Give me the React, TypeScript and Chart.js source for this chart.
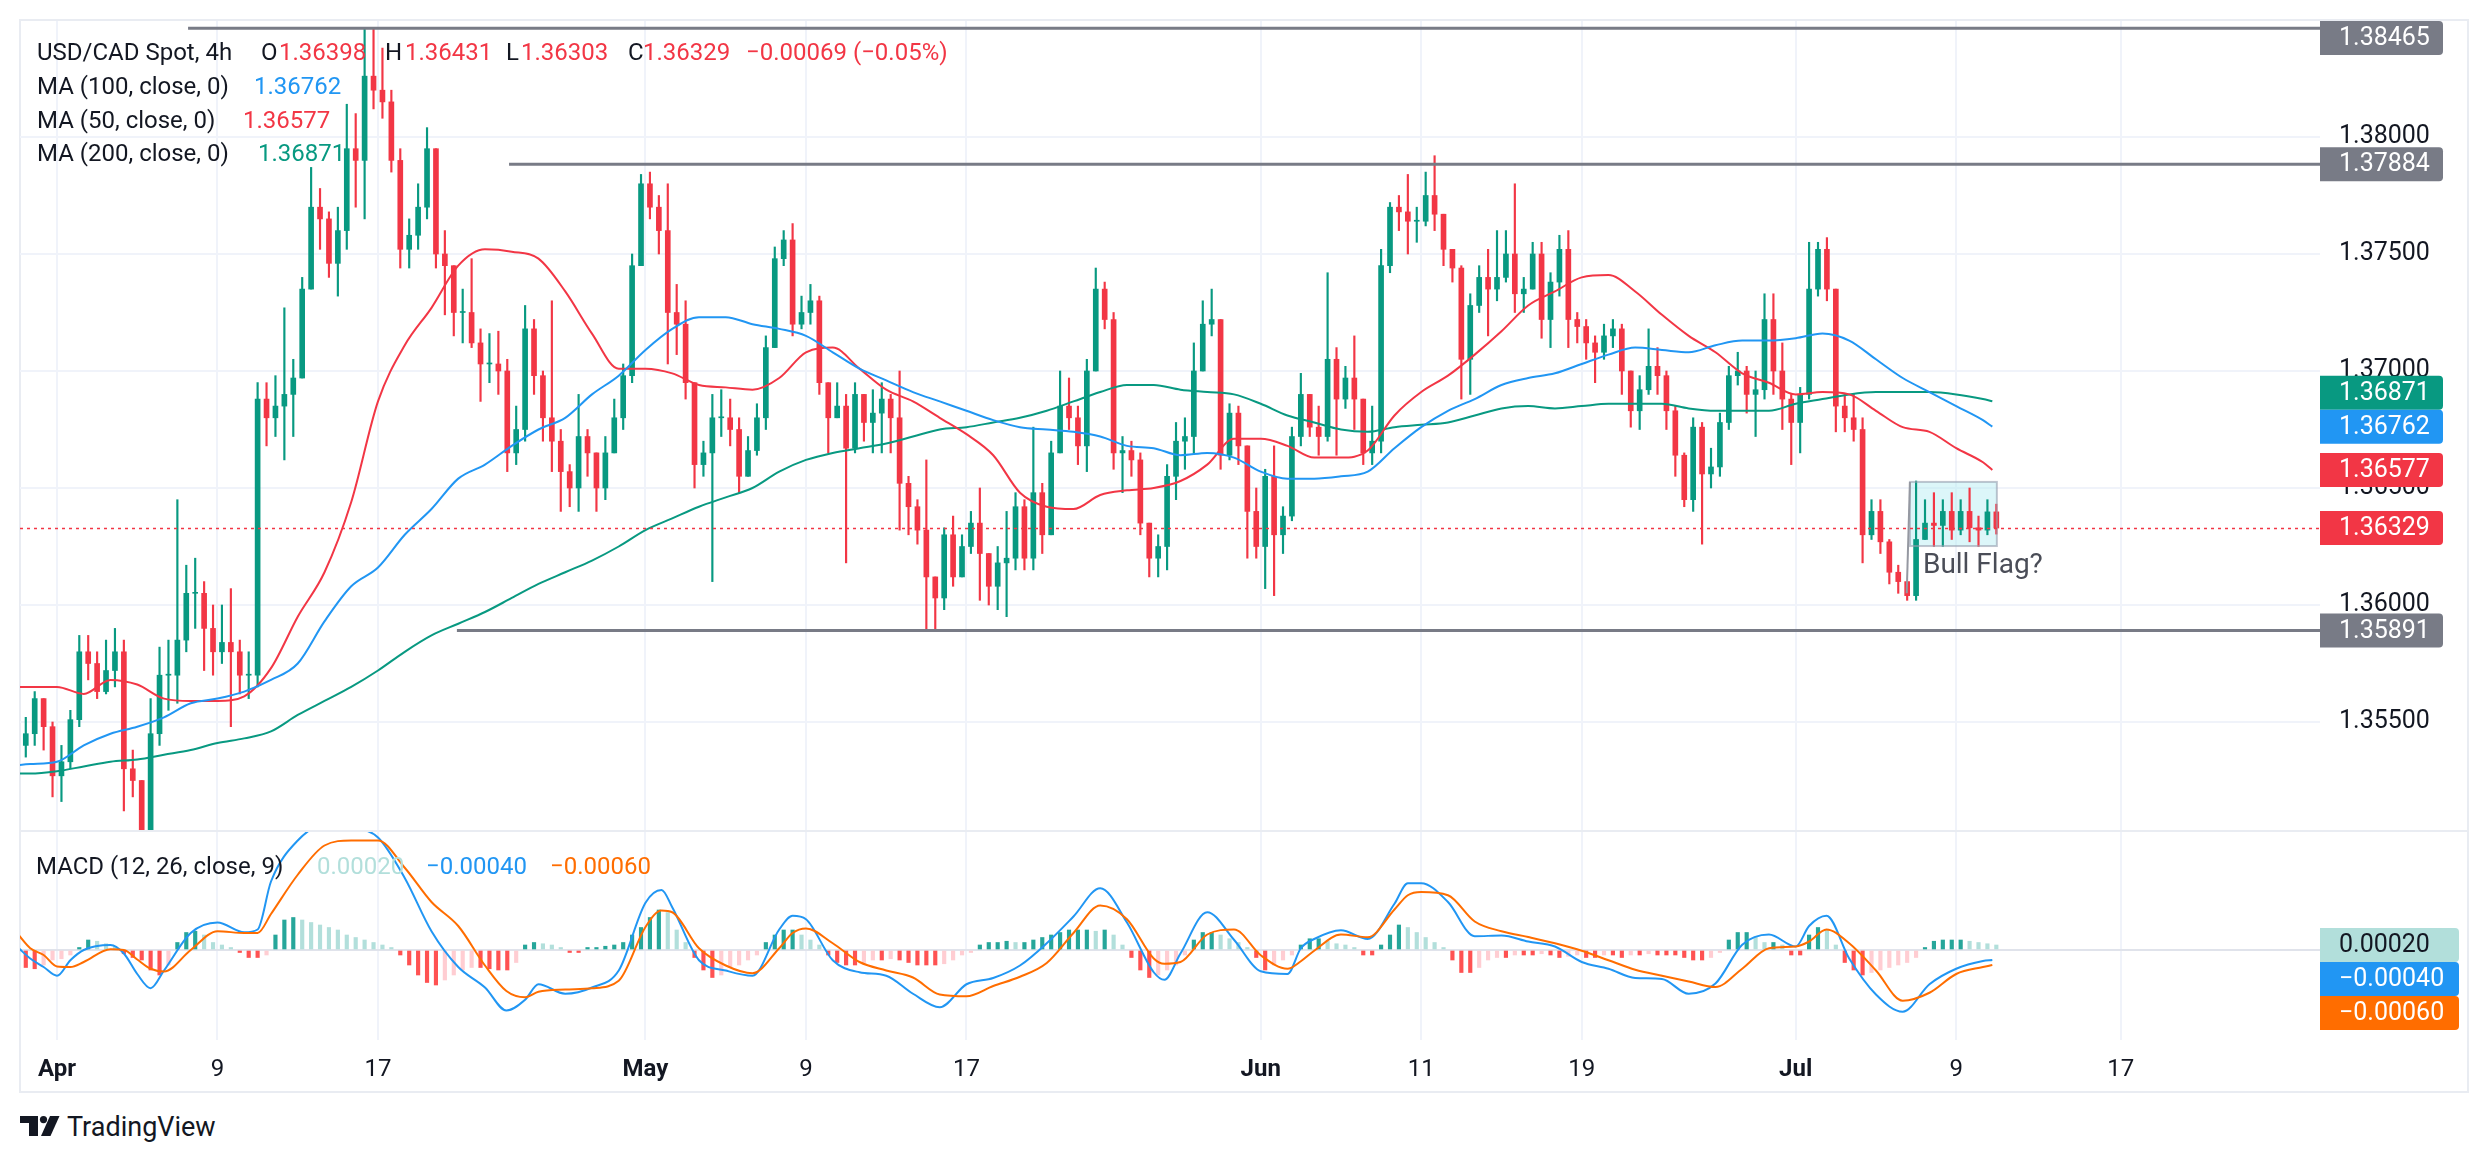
import React, { useEffect, useRef } from 'react';
import { Chart, registerables } from 'chart.js';

Chart.register(...registerables);

const FONT = 'Roboto, "Noto Sans", Arial, sans-serif';
const UP = '#089981';
const DOWN = '#F23645';
const GRID = '#F0F3FA';
const TEXT = '#131722';

// ---------- candles: 8h bars, first bar = last session of Mar 28; then 3 bars per trading day (day 0 = Apr 1)
const firstBarDay = -2 + 2.5 / 3;
const barStep = 1 / 3;
const firstOpen = 1.354;
const closes = [
  1.3545,
  1.3560, 1.3548, 1.3527,
  1.3533, 1.3551, 1.3580,
  1.3575, 1.3563, 1.3572,
  1.3580, 1.3530, 1.3525,
  1.3500, 1.3545, 1.3570,
  1.3570, 1.3585, 1.3605,
  1.3605, 1.3590, 1.3580,
  1.3584, 1.3580, 1.3570,
  1.3570, 1.3688, 1.3680,
  1.3685, 1.3690, 1.3697,
  1.3735, 1.3770, 1.3765,
  1.3746, 1.3760, 1.3795,
  1.3790, 1.3826, 1.3820,
  1.3815, 1.3790, 1.3752,
  1.3758, 1.3770, 1.3795,
  1.3750, 1.3745, 1.3725,
  1.3725, 1.3712, 1.3703,
  1.3703, 1.3700, 1.3665,
  1.3675, 1.3718, 1.3698,
  1.3680, 1.3670, 1.3657,
  1.3650, 1.3672, 1.3665,
  1.3650, 1.3665, 1.3680,
  1.3698, 1.3745, 1.3780,
  1.3770, 1.3760, 1.3725,
  1.3720, 1.3695, 1.3660,
  1.3665, 1.3680, 1.3680,
  1.3675, 1.3655, 1.3666,
  1.3680, 1.3710, 1.3748,
  1.3756, 1.3720, 1.3725,
  1.3730, 1.3695, 1.3680,
  1.3685, 1.3667, 1.3690,
  1.3678, 1.3682, 1.3688,
  1.3680, 1.3652, 1.3642,
  1.3632, 1.3612, 1.3603,
  1.3630, 1.3612, 1.3625,
  1.3635, 1.3622, 1.3608,
  1.3618, 1.3620, 1.3642,
  1.3620, 1.3648, 1.3630,
  1.3665, 1.3685, 1.3680,
  1.3668, 1.3700, 1.3735,
  1.3722, 1.3665, 1.3666,
  1.3662, 1.3635, 1.3620,
  1.3625, 1.3655, 1.3670,
  1.3672, 1.3700, 1.3720,
  1.3722, 1.3664, 1.3682,
  1.3668, 1.3640, 1.3625,
  1.3655, 1.3630, 1.3638,
  1.3672, 1.3690, 1.3676,
  1.3672, 1.3705, 1.3688,
  1.3697, 1.3688, 1.3665,
  1.3670, 1.3745, 1.3770,
  1.3768, 1.3764, 1.3764,
  1.3775, 1.3767, 1.3752,
  1.3744, 1.3705, 1.3728,
  1.3740, 1.3735, 1.3740,
  1.3750, 1.3733, 1.3735,
  1.3750, 1.3722, 1.3738,
  1.3752, 1.3722, 1.3719,
  1.3712, 1.3708, 1.3715,
  1.3718, 1.3700, 1.3683,
  1.3692, 1.3702, 1.3698,
  1.3683, 1.3664, 1.3645,
  1.3676, 1.3656, 1.3659,
  1.3678, 1.3698, 1.3700,
  1.3690, 1.3692, 1.3722,
  1.3700, 1.3688, 1.3678,
  1.3690, 1.3735, 1.3752,
  1.3735, 1.3685, 1.3680,
  1.3675, 1.3630, 1.3640,
  1.3627, 1.3614, 1.3610,
  1.3604, 1.3628, 1.3635,
  1.3634, 1.3640, 1.3632,
  1.3640, 1.3633, 1.3632,
  1.36398, 1.36329,
];
const highs = [
  1.3552,
  1.3563, 1.3560, 1.3550,
  1.3540, 1.3555, 1.3587,
  1.3587, 1.3580, 1.3585,
  1.3590, 1.3585, 1.3538,
  1.3520, 1.3560, 1.3582,
  1.3585, 1.3645, 1.3617,
  1.3620, 1.3610, 1.3600,
  1.3600, 1.3607, 1.3585,
  1.3580, 1.3695, 1.3695,
  1.3698, 1.3727, 1.3705,
  1.3740, 1.3787, 1.3778,
  1.3768, 1.3770, 1.3814,
  1.3810, 1.3846, 1.3846,
  1.3838, 1.3820, 1.3795,
  1.3765, 1.3780, 1.3804,
  1.3790, 1.3760, 1.3742,
  1.3735, 1.3748, 1.3718,
  1.3716, 1.3717, 1.3705,
  1.3685, 1.3728, 1.3722,
  1.3700, 1.3730, 1.3675,
  1.3660, 1.3690, 1.3675,
  1.3665, 1.3672, 1.3688,
  1.3703, 1.3750, 1.3784,
  1.3785, 1.3775, 1.3780,
  1.3737, 1.3730, 1.3690,
  1.3670, 1.3690, 1.3692,
  1.3688, 1.3680, 1.3672,
  1.3686, 1.3715, 1.3753,
  1.3760, 1.3763, 1.3732,
  1.3737, 1.3732, 1.3695,
  1.3695, 1.3690, 1.3695,
  1.3690, 1.3692, 1.3695,
  1.3690, 1.3700, 1.3655,
  1.3645, 1.3662, 1.3612,
  1.3633, 1.3638, 1.3630,
  1.3640, 1.3650, 1.3620,
  1.3625, 1.3640, 1.3648,
  1.3645, 1.3676, 1.3652,
  1.3670, 1.3700, 1.3697,
  1.3685, 1.3705, 1.3744,
  1.3738, 1.3725, 1.3672,
  1.3670, 1.3665, 1.3635,
  1.3630, 1.3660, 1.3678,
  1.3680, 1.3712, 1.3730,
  1.3735, 1.3722, 1.3686,
  1.3685, 1.3668, 1.3650,
  1.3658, 1.3668, 1.3642,
  1.3676, 1.3699, 1.3690,
  1.3685, 1.3742, 1.3710,
  1.3702, 1.3715, 1.3680,
  1.3685, 1.3752, 1.3772,
  1.3775, 1.3784, 1.3770,
  1.3785, 1.3792, 1.3765,
  1.3752, 1.3745, 1.3733,
  1.3745, 1.3752, 1.3760,
  1.3760, 1.3780, 1.3740,
  1.3755, 1.3755, 1.3742,
  1.3758, 1.3760, 1.3725,
  1.3722, 1.3715, 1.3720,
  1.3722, 1.3720, 1.3690,
  1.3698, 1.3718, 1.3710,
  1.3700, 1.3685, 1.3665,
  1.3680, 1.3678, 1.3667,
  1.3682, 1.3702, 1.3708,
  1.3702, 1.3700, 1.3733,
  1.3733, 1.3712, 1.3690,
  1.3693, 1.3755, 1.3755,
  1.3757, 1.3733, 1.3690,
  1.3690, 1.3680, 1.3645,
  1.3645, 1.3628, 1.3617,
  1.3608, 1.3653, 1.3645,
  1.3648, 1.3645, 1.3648,
  1.3645, 1.3650, 1.3638,
  1.3645, 1.36431,
];
const lows = [
  1.3535,
  1.3540, 1.3538, 1.3518,
  1.3516, 1.3530, 1.3548,
  1.3568, 1.3560, 1.3562,
  1.3565, 1.3512, 1.3518,
  1.3490, 1.3495, 1.3540,
  1.3555, 1.3558, 1.3580,
  1.3590, 1.3572, 1.3570,
  1.3575, 1.3548, 1.3562,
  1.3560, 1.3565, 1.3668,
  1.3672, 1.3662, 1.3672,
  1.3700, 1.3735, 1.3752,
  1.3740, 1.3732, 1.3752,
  1.3770, 1.3765, 1.3812,
  1.3808, 1.3785, 1.3744,
  1.3744, 1.3752, 1.3765,
  1.3744, 1.3724, 1.3715,
  1.3712, 1.3710, 1.3687,
  1.3695, 1.3690, 1.3657,
  1.3660, 1.3670, 1.3690,
  1.3670, 1.3657, 1.3640,
  1.3642, 1.3640, 1.3655,
  1.3640, 1.3645, 1.3670,
  1.3675, 1.3695, 1.3745,
  1.3765, 1.3750, 1.3703,
  1.3707, 1.3688, 1.3650,
  1.3655, 1.3610, 1.3672,
  1.3668, 1.3648, 1.3655,
  1.3664, 1.3675, 1.3715,
  1.3745, 1.3715, 1.3718,
  1.3720, 1.3690, 1.3665,
  1.3680, 1.3618, 1.3665,
  1.3670, 1.3665, 1.3665,
  1.3665, 1.3632, 1.3630,
  1.3626, 1.3589, 1.3589,
  1.3598, 1.3608, 1.3612,
  1.3622, 1.3602, 1.3600,
  1.3598, 1.3595, 1.3615,
  1.3615, 1.3615, 1.3622,
  1.3630, 1.3668, 1.3675,
  1.3660, 1.3657, 1.3700,
  1.3718, 1.3658, 1.3648,
  1.3655, 1.3630, 1.3612,
  1.3612, 1.3615, 1.3645,
  1.3658, 1.3665, 1.3703,
  1.3715, 1.3658, 1.3662,
  1.3660, 1.3620, 1.3620,
  1.3607, 1.3604, 1.3622,
  1.3636, 1.3668, 1.3672,
  1.3664, 1.3670, 1.3664,
  1.3684, 1.3675, 1.3660,
  1.3660, 1.3665, 1.3742,
  1.3760, 1.3750, 1.3755,
  1.3762, 1.3760, 1.3745,
  1.3738, 1.3688, 1.3690,
  1.3725, 1.3715, 1.3730,
  1.3738, 1.3725, 1.3725,
  1.3735, 1.3714, 1.3710,
  1.3732, 1.3710, 1.3712,
  1.3705, 1.3695, 1.3705,
  1.3710, 1.3690, 1.3676,
  1.3675, 1.3690, 1.3690,
  1.3675, 1.3655, 1.3642,
  1.3640, 1.3626, 1.3650,
  1.3655, 1.3675, 1.3694,
  1.3682, 1.3672, 1.3688,
  1.3690, 1.3675, 1.3660,
  1.3665, 1.3688, 1.3732,
  1.3730, 1.3674, 1.3674,
  1.3670, 1.3618, 1.3628,
  1.3622, 1.3609, 1.3605,
  1.3602, 1.3602, 1.3628,
  1.3625, 1.3625, 1.3628,
  1.3630, 1.3627, 1.3625,
  1.3630, 1.36303,
];

// ---------- moving averages, one value per trading day from day -2 to day 72, then the last bar (day 72.35)
const maFirstDay = -2;
const maLastDay = 72.35;
const ma50 = [
  1.3565, 1.3565, 1.3565, 1.3562, 1.3568, 1.3566, 1.3560, 1.3559, 1.3559, 1.3561,
  1.3573, 1.3595, 1.3614, 1.3644, 1.3687, 1.3711, 1.3727, 1.3745, 1.3752, 1.3751,
  1.3748, 1.3734, 1.3716, 1.3701, 1.3701, 1.3699, 1.3694, 1.3693, 1.3692, 1.3697,
  1.3708, 1.3710, 1.3701, 1.3692, 1.3687, 1.3680, 1.3673, 1.3664, 1.3648, 1.3642,
  1.3641, 1.3647, 1.3649, 1.3650, 1.3653, 1.3660, 1.3671, 1.3671, 1.3668, 1.3663,
  1.3663, 1.3666, 1.3681, 1.3691, 1.3698, 1.3707, 1.3717, 1.3728, 1.3734, 1.3740,
  1.3741, 1.3734, 1.3724, 1.3715, 1.3708, 1.3699, 1.3695, 1.3690, 1.3691, 1.3690,
  1.3683, 1.3676, 1.3674, 1.3667, 1.3661, 1.36577,
];
const ma100 = [
  1.3531, 1.3532, 1.3533, 1.3540, 1.3545, 1.3548, 1.3552, 1.3558, 1.3560, 1.3563,
  1.3568, 1.3575, 1.3593, 1.3608, 1.3616, 1.3630, 1.3641, 1.3654, 1.3660, 1.3668,
  1.3675, 1.3680, 1.3690, 1.3698, 1.3709, 1.3718, 1.3723, 1.3723, 1.3720, 1.3718,
  1.3715, 1.3708, 1.3701, 1.3696, 1.3691, 1.3687, 1.3683, 1.3679, 1.3676, 1.3675,
  1.3674, 1.3672, 1.3668, 1.3667, 1.3664, 1.3665, 1.3663, 1.3657, 1.3654, 1.3654,
  1.3655, 1.3657, 1.3667, 1.3676, 1.3683, 1.3688, 1.3694, 1.3697, 1.3699, 1.3703,
  1.3707, 1.3710, 1.3709, 1.3708, 1.3711, 1.3713, 1.3713, 1.3714, 1.3716, 1.3713,
  1.3705, 1.3697, 1.3691, 1.3685, 1.3679, 1.36762,
];
const ma200 = [
  1.3528, 1.3528, 1.3529, 1.3531, 1.3533, 1.3534, 1.3536, 1.3538, 1.3541, 1.3543,
  1.3546, 1.3553, 1.3559, 1.3565, 1.3572, 1.3580, 1.3587, 1.3592, 1.3597, 1.3603,
  1.3609, 1.3614, 1.3619, 1.3625, 1.3632, 1.3637, 1.3642, 1.3646, 1.3650, 1.3657,
  1.3662, 1.3665, 1.3667, 1.3669, 1.3672, 1.3675, 1.3676, 1.3678, 1.3680, 1.3683,
  1.3687, 1.3691, 1.3694, 1.3694, 1.3692, 1.3691, 1.3690, 1.3686, 1.3681, 1.3678,
  1.3675, 1.3674, 1.3676, 1.3677, 1.3678, 1.3681, 1.3684, 1.3685, 1.3684, 1.3685,
  1.3686, 1.3686, 1.3686, 1.3684, 1.3683, 1.3683, 1.3683, 1.3686, 1.3688, 1.3690,
  1.3691, 1.3691, 1.3691, 1.3690, 1.3688, 1.36871,
];

// ---------- MACD (12, 26, close, 9), values in units of 0.001
const MACD_UNIT = 0.001;
const macdDays = [
  -2, -1.5, -1, -0.5, 0, 0.5, 1, 2, 2.5, 3, 3.5, 4, 5, 6, 7, 7.5, 8, 9, 10, 11, 12, 13, 14, 15, 16,
  16.8, 17.5, 18, 19, 20, 21, 22, 22.6, 23, 24, 25, 26, 27, 27.5, 28, 29, 30, 31, 32, 33, 34, 35,
  36, 37, 38, 39, 40, 41, 41.4, 42, 43, 44, 45, 46, 46.5, 47, 48, 49, 50, 50.5, 51, 52, 53, 54, 55,
  56, 57, 58, 59, 60, 61, 62, 63, 64, 65, 65.5, 66.15, 67, 68, 69, 70, 71, 72, 72.35,
];
const macdLine = [
  0.6, 0.14, -0.34, -0.68, -1.03, -0.41, 0.0, 0.2, -0.14, -0.96, -1.53, -0.82, 0.68, 1.1, 0.71, 0.82, 2.74, 4.38, 5.0, 4.9, 4.5, 2.88, 0.75, -0.68, -1.5,
  -2.42, -1.99, -1.37, -1.75, -1.5, -0.82, 1.89, 2.4, 1.71, -0.41, -0.82, -1.03, 0.82, 1.37, 1.23, -0.41, -0.89, -1.03, -1.75, -2.29, -1.37, -1.12,
  -0.62, 0.27, 1.34, 2.47, 1.1, -0.89, -1.19, -0.14, 1.51, 0.41, -0.85, -0.96, 0.07, 0.44, 0.79, 0.44, 1.85, 2.67, 2.67, 1.92, 0.55, 0.58, 0.34,
  0.14, -0.48, -0.75, -1.12, -1.16, -1.75, -1.34, 0.21, 0.62, 0.14, 0.96, 1.37, -0.34, -1.78, -2.47, -1.37, -0.75, -0.44, -0.40,
];
const signalLine = [
  1.2, 0.68, 0.07, -0.2, -0.66, -0.68, -0.48, 0.03, 0.0, -0.38, -0.75, -0.86, 0.0, 0.75, 0.68, 0.68, 1.44, 3.01, 4.18, 4.38, 4.38, 3.29, 1.92, 0.96, -0.62,
  -1.64, -1.89, -1.67, -1.58, -1.53, -1.23, 0.92, 1.58, 1.51, 0.07, -0.62, -0.93, 0.07, 0.68, 0.86, 0.27, -0.48, -0.82, -1.1, -1.78, -1.85, -1.44,
  -1.07, -0.52, 0.68, 1.78, 1.23, -0.34, -0.55, -0.48, 0.62, 0.82, -0.21, -0.75, -0.45, -0.03, 0.62, 0.51, 1.62, 2.19, 2.32, 2.19, 1.14, 0.75, 0.52,
  0.27, -0.03, -0.41, -0.79, -1.03, -1.26, -1.48, -0.75, 0.07, 0.14, 0.34, 0.82, 0.27, -0.82, -2.03, -1.71, -0.96, -0.68, -0.60,
];
// histogram, one value per 8h bar (same bars as the candles)
const macdHist = [
  -0.7,
  -0.75, -0.6, -0.4,
  -0.35, -0.2, 0.1,
  0.4, 0.35, 0.25,
  0.15, -0.15, -0.3,
  -0.4, -0.8, -1.0,
  -0.6, 0.3, 0.7,
  0.75, 0.6, 0.3,
  0.2, 0.1, -0.1,
  -0.3, -0.3, -0.2,
  0.6, 1.2, 1.3,
  1.2, 1.1, 1.0,
  0.9, 0.8, 0.6,
  0.5, 0.4, 0.3,
  0.2, 0.1, -0.2,
  -0.6, -1.0, -1.3,
  -1.4, -1.2, -1.0,
  -0.8, -0.7, -0.7,
  -0.75, -0.8, -0.8,
  -0.5, 0.2, 0.3,
  0.25, 0.2, 0.1,
  -0.1, -0.1, 0.1,
  0.1, 0.15, 0.2,
  0.3, 0.6, 0.9,
  1.3, 1.6, 1.5,
  0.8, 0.3, -0.3,
  -0.8, -1.1, -1.0,
  -0.7, -0.6, -0.4,
  -0.2, 0.3, 0.6,
  0.8, 0.8, 0.6,
  0.4, 0.2, -0.2,
  -0.5, -0.6, -0.6,
  -0.5, -0.4, -0.4,
  -0.35, -0.4, -0.5,
  -0.6, -0.6, -0.6,
  -0.55, -0.4, -0.2,
  -0.1, 0.2, 0.3,
  0.3, 0.35, 0.3,
  0.3, 0.4, 0.5,
  0.6, 0.7, 0.8,
  0.8, 0.8, 0.75,
  0.8, 0.6, 0.2,
  -0.3, -0.8, -1.1,
  -1.0, -0.8, -0.6,
  -0.2, 0.4, 0.7,
  0.7, 0.6, 0.45,
  0.3, 0.1, -0.3,
  -0.8, -0.6, -0.4,
  -0.2, 0.2, 0.45,
  0.45, 0.35, 0.25,
  0.2, 0.1, -0.2,
  -0.2, 0.2, 0.6,
  1.0, 0.9, 0.7,
  0.5, 0.3, 0.1,
  -0.4, -0.9, -0.9,
  -0.7, -0.4, -0.3,
  -0.3, -0.2, -0.2,
  -0.2, -0.15, -0.2,
  -0.3, -0.25, -0.2,
  -0.3, -0.3, -0.2,
  -0.2, -0.3, -0.2,
  -0.2, -0.15, -0.2,
  -0.2, -0.2, -0.3,
  -0.4, -0.4, -0.3,
  -0.1, 0.4, 0.7,
  0.7, 0.5, 0.3,
  0.3, 0.2, -0.2,
  -0.2, 0.6, 0.9,
  0.8, 0.2, -0.5,
  -0.8, -1.0, -0.9,
  -0.8, -0.7, -0.6,
  -0.5, -0.3, 0.1,
  0.35, 0.4, 0.4,
  0.4, 0.35, 0.3,
  0.25, 0.2,
];

// ---------- drawings
const levelPrices = [1.38465, 1.37884, 1.35891];
const levelStartDays = [4.9, 16.9, 14.95];
const flagStartDay = 69.27;
const flagEndDay = 72.52;
const flagTop = 1.36526;
const flagBottom = 1.36252;
const flagPoleDays = [69.15, 69.27];
const flagPolePrices = [1.3605, 1.36526];
const flagText = 'Bull Flag?';

// ---------- axes
const dateTickDays = [0, 6, 12, 22, 28, 34, 45, 51, 57, 65, 71, 77.15];
const dateTickLabels = ['Apr', '9', '17', 'May', '9', '17', 'Jun', '11', '19', 'Jul', '9', '17'];
const monthLabels = ['Apr', 'May', 'Jun', 'Jul'];
const priceTicks = [1.355, 1.36, 1.365, 1.37, 1.375, 1.38];
const X_MIN = -1.383;
const X_MAX = 84.6;
const PRICE_MIN = 1.350342;
const PRICE_MAX = 1.384957;
const MACD_MIN = -3.6;
const MACD_MAX = 4.72;

const fmt = (v: number) => (v < 0 ? '\u2212' : '') + Math.abs(v).toFixed(5);
const maDay = (i: number, arr: number[]) => (i === arr.length - 1 ? maLastDay : maFirstDay + i);

const TAG_H = 34;

function drawTag(ctx: any, x: number, yc: number, w: number, text: string, bg: string, fg: string) {
  const h = TAG_H, r = 4;
  const top = yc - h / 2;
  ctx.save();
  ctx.beginPath();
  ctx.moveTo(x, top);
  ctx.lineTo(x + w - r, top);
  ctx.arcTo(x + w, top, x + w, top + r, r);
  ctx.lineTo(x + w, top + h - r);
  ctx.arcTo(x + w, top + h, x + w - r, top + h, r);
  ctx.lineTo(x, top + h);
  ctx.closePath();
  ctx.fillStyle = bg;
  ctx.fill();
  ctx.fillStyle = fg;
  ctx.font = `25px ${FONT}`;
  ctx.textAlign = 'left';
  ctx.textBaseline = 'middle';
  ctx.fillText(text, x + 19, yc + 1);
  ctx.restore();
}

const candles = closes.map((c, i) => {
  const o = i === 0 ? firstOpen : closes[i - 1];
  return { x: firstBarDay + i * barStep, o, c, h: Math.max(highs[i], o, c), l: Math.min(lows[i], o, c) };
});
const candleColors = candles.map((k) => (k.c >= k.o ? UP : DOWN));
const histColors = macdHist.map((v, i) => {
  const prev = i === 0 ? v : macdHist[i - 1];
  if (v >= 0) return v >= prev ? '#26A69A' : '#B2DFDB';
  return v <= prev ? '#FF5252' : '#FFCDD2';
});

const lastClose = closes[closes.length - 1];
const prevClose = closes[closes.length - 2];
const last = candles[candles.length - 1];

const pricePlugin = {
  id: 'priceDecor',
  beforeDatasetsDraw(chart: any) {
    const { ctx, scales } = chart;
    const x0 = scales.x.getPixelForValue(flagStartDay);
    const x1 = scales.x.getPixelForValue(flagEndDay);
    const y0 = scales.y.getPixelForValue(flagTop);
    const y1 = scales.y.getPixelForValue(flagBottom);
    ctx.save();
    ctx.fillStyle = 'rgba(178,235,242,0.45)';
    ctx.fillRect(x0, y0, x1 - x0, y1 - y0);
    ctx.restore();
  },
  afterDatasetsDraw(chart: any) {
    const { ctx, scales, chartArea } = chart;
    const xs = scales.x, ys = scales.y;
    ctx.save();
    const x0 = xs.getPixelForValue(flagStartDay);
    const x1 = xs.getPixelForValue(flagEndDay);
    const y0 = ys.getPixelForValue(flagTop);
    const y1 = ys.getPixelForValue(flagBottom);
    ctx.strokeStyle = 'rgba(150,158,175,0.6)';
    ctx.lineWidth = 2;
    ctx.strokeRect(x0, y0, x1 - x0, y1 - y0);
    ctx.strokeStyle = '#9598A1';
    ctx.lineWidth = 2;
    ctx.beginPath();
    ctx.moveTo(xs.getPixelForValue(flagPoleDays[0]), ys.getPixelForValue(flagPolePrices[0]));
    ctx.lineTo(xs.getPixelForValue(flagPoleDays[1]), ys.getPixelForValue(flagPolePrices[1]));
    ctx.stroke();
    ctx.fillStyle = '#4A4D57';
    ctx.font = `28px ${FONT}`;
    ctx.textAlign = 'left';
    ctx.textBaseline = 'middle';
    ctx.fillText(flagText, x0 + 13, y1 + 20);
    ctx.strokeStyle = '#787B86';
    ctx.lineWidth = 3;
    levelPrices.forEach((p, i) => {
      const y = ys.getPixelForValue(p);
      ctx.beginPath();
      ctx.moveTo(Math.max(chartArea.left, xs.getPixelForValue(levelStartDays[i])), y);
      ctx.lineTo(chartArea.right, y);
      ctx.stroke();
    });
    const yc = Math.round(ys.getPixelForValue(lastClose)) + 0.5;
    ctx.strokeStyle = DOWN;
    ctx.lineWidth = 1.5;
    ctx.setLineDash([3, 4]);
    ctx.beginPath();
    ctx.moveTo(chartArea.left, yc);
    ctx.lineTo(chartArea.right, yc);
    ctx.stroke();
    ctx.restore();
  },
  afterDraw(chart: any) {
    const { ctx, scales, chartArea } = chart;
    const ys = scales.y;
    const tags = [
      { v: levelPrices[0], bg: '#787B86', fg: '#FFFFFF' },
      { v: levelPrices[1], bg: '#787B86', fg: '#FFFFFF' },
      { v: ma200[ma200.length - 1], bg: '#089981', fg: '#FFFFFF' },
      { v: ma100[ma100.length - 1], bg: '#2196F3', fg: '#FFFFFF' },
      { v: ma50[ma50.length - 1], bg: '#F23645', fg: '#FFFFFF' },
      { v: lastClose, bg: '#F23645', fg: '#FFFFFF' },
      { v: levelPrices[2], bg: '#787B86', fg: '#FFFFFF' },
    ].map((t) => ({ ...t, y: Math.min(Math.max(ys.getPixelForValue(t.v), chartArea.top + TAG_H / 2), chartArea.bottom - TAG_H / 2) }));
    tags.sort((a, b) => a.y - b.y);
    for (let i = tags.length - 2; i >= 0; i--) {
      if (tags[i].y + TAG_H > tags[i + 1].y) tags[i].y = tags[i + 1].y - TAG_H;
    }
    tags.forEach((t) => drawTag(ctx, chartArea.right, t.y, 123, t.v.toFixed(5), t.bg, t.fg));
  },
};

const macdPlugin = {
  id: 'macdDecor',
  afterDraw(chart: any) {
    const { ctx, scales, chartArea } = chart;
    const ys = scales.y;
    const tags = [
      { v: macdHist[macdHist.length - 1], bg: '#B2DFDB', fg: TEXT },
      { v: macdLine[macdLine.length - 1], bg: '#2196F3', fg: '#FFFFFF' },
      { v: signalLine[signalLine.length - 1], bg: '#FF6D00', fg: '#FFFFFF' },
    ].map((t) => ({ ...t, y: ys.getPixelForValue(t.v) }));
    tags.sort((a, b) => a.y - b.y);
    for (let i = 1; i < tags.length; i++) {
      if (tags[i].y < tags[i - 1].y + TAG_H) tags[i].y = tags[i - 1].y + TAG_H;
    }
    tags.forEach((t) => drawTag(ctx, chartArea.right, t.y, 139, fmt(t.v * MACD_UNIT), t.bg, t.fg));
  },
};

function zeroPad(s: any) {
  s.paddingTop = 0;
  s.paddingBottom = 0;
  s.paddingLeft = 0;
  s.paddingRight = 0;
}

const Txt = ({ x, y, color = TEXT, size = 24, weight = 400, children }: any) => (
  <div
    style={{
      position: 'absolute',
      left: x,
      top: y,
      transform: 'translateY(-50%)',
      color,
      fontSize: size,
      fontWeight: weight,
      fontFamily: FONT,
      whiteSpace: 'nowrap',
      lineHeight: 1,
    }}
  >
    {children}
  </div>
);

export default function App() {
  const priceRef = useRef<HTMLCanvasElement | null>(null);
  const macdRef = useRef<HTMLCanvasElement | null>(null);

  useEffect(() => {
    const xCommon = {
      type: 'linear',
      min: X_MIN,
      max: X_MAX,
      offset: false,
      afterBuildTicks: (s: any) => {
        s.ticks = dateTickDays.map((v) => ({ value: v }));
      },
      grid: { color: GRID, lineWidth: 2, drawTicks: false, offset: false },
      border: { display: false },
    };

    const priceChart = new Chart(priceRef.current as any, {
      type: 'bar',
      data: {
        datasets: [
          {
            type: 'line',
            label: 'MA (100, close, 0)',
            data: ma100.map((v, i) => ({ x: maDay(i, ma100), y: v })),
            borderColor: '#2196F3',
            borderWidth: 2,
            pointRadius: 0,
            cubicInterpolationMode: 'monotone',
            order: 0,
          },
          {
            type: 'line',
            label: 'MA (50, close, 0)',
            data: ma50.map((v, i) => ({ x: maDay(i, ma50), y: v })),
            borderColor: '#F23645',
            borderWidth: 2,
            pointRadius: 0,
            cubicInterpolationMode: 'monotone',
            order: 0,
          },
          {
            type: 'line',
            label: 'MA (200, close, 0)',
            data: ma200.map((v, i) => ({ x: maDay(i, ma200), y: v })),
            borderColor: '#089981',
            borderWidth: 2,
            pointRadius: 0,
            cubicInterpolationMode: 'monotone',
            order: 0,
          },
          {
            type: 'bar',
            label: 'bodies',
            data: candles.map((k) => ({ x: k.x, y: [k.o, k.c] })),
            backgroundColor: candleColors,
            barThickness: 5,
            minBarLength: 1,
            grouped: false,
            order: 1,
          },
          {
            type: 'bar',
            label: 'wicks',
            data: candles.map((k) => ({ x: k.x, y: [k.l, k.h] })),
            backgroundColor: candleColors,
            barThickness: 1.5,
            grouped: false,
            order: 2,
          },
        ],
      } as any,
      options: {
        animation: false,
        responsive: false,
        devicePixelRatio: 1,
        events: [],
        layout: { padding: 0 },
        plugins: { legend: { display: false }, tooltip: { enabled: false } },
        scales: {
          x: {
            ...xCommon,
            ticks: { display: false },
            afterFit: (s: any) => {
              s.height = 0;
              zeroPad(s);
            },
          },
          y: {
            type: 'linear',
            position: 'right',
            min: PRICE_MIN,
            max: PRICE_MAX,
            afterBuildTicks: (s: any) => {
              s.ticks = priceTicks.map((v) => ({ value: v }));
            },
            ticks: {
              padding: 19,
              color: TEXT,
              font: { family: FONT, size: 25 },
              callback: (v: any) => Number(v).toFixed(5),
            },
            grid: { color: GRID, lineWidth: 2, drawTicks: false },
            border: { display: false },
            afterFit: (s: any) => {
              s.width = 148;
              zeroPad(s);
            },
          },
        },
      } as any,
      plugins: [pricePlugin],
    });

    const macdChart = new Chart(macdRef.current as any, {
      type: 'bar',
      data: {
        datasets: [
          {
            type: 'line',
            label: 'Signal',
            data: signalLine.map((v, i) => ({ x: macdDays[i], y: v })),
            borderColor: '#FF6D00',
            borderWidth: 2,
            pointRadius: 0,
            cubicInterpolationMode: 'monotone',
            order: 0,
          },
          {
            type: 'line',
            label: 'MACD',
            data: macdLine.map((v, i) => ({ x: macdDays[i], y: v })),
            borderColor: '#2196F3',
            borderWidth: 2,
            pointRadius: 0,
            cubicInterpolationMode: 'monotone',
            order: 1,
          },
          {
            type: 'bar',
            label: 'Histogram',
            data: macdHist.map((v, i) => ({ x: firstBarDay + i * barStep, y: v })),
            backgroundColor: histColors,
            barThickness: 3.5,
            grouped: false,
            order: 2,
          },
        ],
      } as any,
      options: {
        animation: false,
        responsive: false,
        devicePixelRatio: 1,
        events: [],
        layout: { padding: 0 },
        plugins: { legend: { display: false }, tooltip: { enabled: false } },
        scales: {
          x: {
            ...xCommon,
            ticks: {
              autoSkip: false,
              maxRotation: 0,
              padding: 16,
              color: TEXT,
              callback: (_v: any, i: number) => dateTickLabels[i],
              font: (c: any) => ({
                family: FONT,
                size: 24,
                weight: monthLabels.includes(dateTickLabels[c.index]) ? 'bold' : 'normal',
              }),
            },
            afterFit: (s: any) => {
              s.height = 52;
              zeroPad(s);
            },
          },
          y: {
            type: 'linear',
            position: 'right',
            min: MACD_MIN,
            max: MACD_MAX,
            afterBuildTicks: (s: any) => {
              s.ticks = [{ value: 0 }];
            },
            ticks: { display: false },
            grid: { color: '#E0E3EB', lineWidth: 2, drawTicks: false },
            border: { display: false },
            afterFit: (s: any) => {
              s.width = 148;
              zeroPad(s);
            },
          },
        },
      } as any,
      plugins: [macdPlugin],
    });

    return () => {
      priceChart.destroy();
      macdChart.destroy();
    };
  }, []);

  const change = lastClose - prevClose;
  const pct = (change / prevClose) * 100;
  const red = '#F23645';

  return (
    <div style={{ position: 'absolute', left: 0, top: 0, width: 2488, height: 1162, background: '#FFFFFF', overflow: 'hidden' }}>
      <div
        style={{
          position: 'absolute',
          left: 19,
          top: 19,
          width: 2450,
          height: 1074,
          border: '2px solid #E9ECF2',
          boxSizing: 'border-box',
        }}
      />
      <canvas ref={priceRef} width={2448} height={810} style={{ position: 'absolute', left: 20, top: 21, display: 'block' }} />
      <div style={{ position: 'absolute', left: 20, top: 830, width: 2448, height: 2, background: '#E9ECF2' }} />
      <canvas ref={macdRef} width={2448} height={260} style={{ position: 'absolute', left: 20, top: 832, display: 'block' }} />

      {/* price pane legend */}
      <Txt x={37} y={52}>USD/CAD Spot, 4h</Txt>
      <Txt x={261} y={52}>O</Txt>
      <Txt x={279} y={52} color={red}>{last.o.toFixed(5)}</Txt>
      <Txt x={385} y={52}>H</Txt>
      <Txt x={405} y={52} color={red}>{last.h.toFixed(5)}</Txt>
      <Txt x={506} y={52}>L</Txt>
      <Txt x={521} y={52} color={red}>{last.l.toFixed(5)}</Txt>
      <Txt x={628} y={52}>C</Txt>
      <Txt x={643} y={52} color={red}>{last.c.toFixed(5)}</Txt>
      <Txt x={746} y={52} color={red}>{`${fmt(change)} (${pct < 0 ? '\u2212' : ''}${Math.abs(pct).toFixed(2)}%)`}</Txt>

      <Txt x={37} y={86}>MA (100, close, 0)</Txt>
      <Txt x={254} y={86} color="#2196F3">{ma100[ma100.length - 1].toFixed(5)}</Txt>
      <Txt x={37} y={120}>MA (50, close, 0)</Txt>
      <Txt x={243} y={120} color="#F23645">{ma50[ma50.length - 1].toFixed(5)}</Txt>
      <Txt x={37} y={153}>MA (200, close, 0)</Txt>
      <Txt x={258} y={153} color="#089981">{ma200[ma200.length - 1].toFixed(5)}</Txt>

      {/* MACD legend */}
      <Txt x={36} y={866}>MACD (12, 26, close, 9)</Txt>
      <Txt x={317} y={866} color="#B2DFDB">{fmt(macdHist[macdHist.length - 1] * MACD_UNIT)}</Txt>
      <Txt x={426} y={866} color="#2196F3">{fmt(macdLine[macdLine.length - 1] * MACD_UNIT)}</Txt>
      <Txt x={550} y={866} color="#FF6D00">{fmt(signalLine[signalLine.length - 1] * MACD_UNIT)}</Txt>

      {/* TradingView logo */}
      <svg style={{ position: 'absolute', left: 20, top: 1115 }} width={40} height={22} viewBox="0 0 40 22">
        <path d="M0 1 H18 V21 H9 V8 H0 Z" fill="#131722" />
        <circle cx={23.5} cy={4.6} r={3.6} fill="#131722" />
        <path d="M30 1 H39.5 L30.5 21 H21 Z" fill="#131722" />
      </svg>
      <Txt x={67} y={1127} size={27}>TradingView</Txt>
    </div>
  );
}
